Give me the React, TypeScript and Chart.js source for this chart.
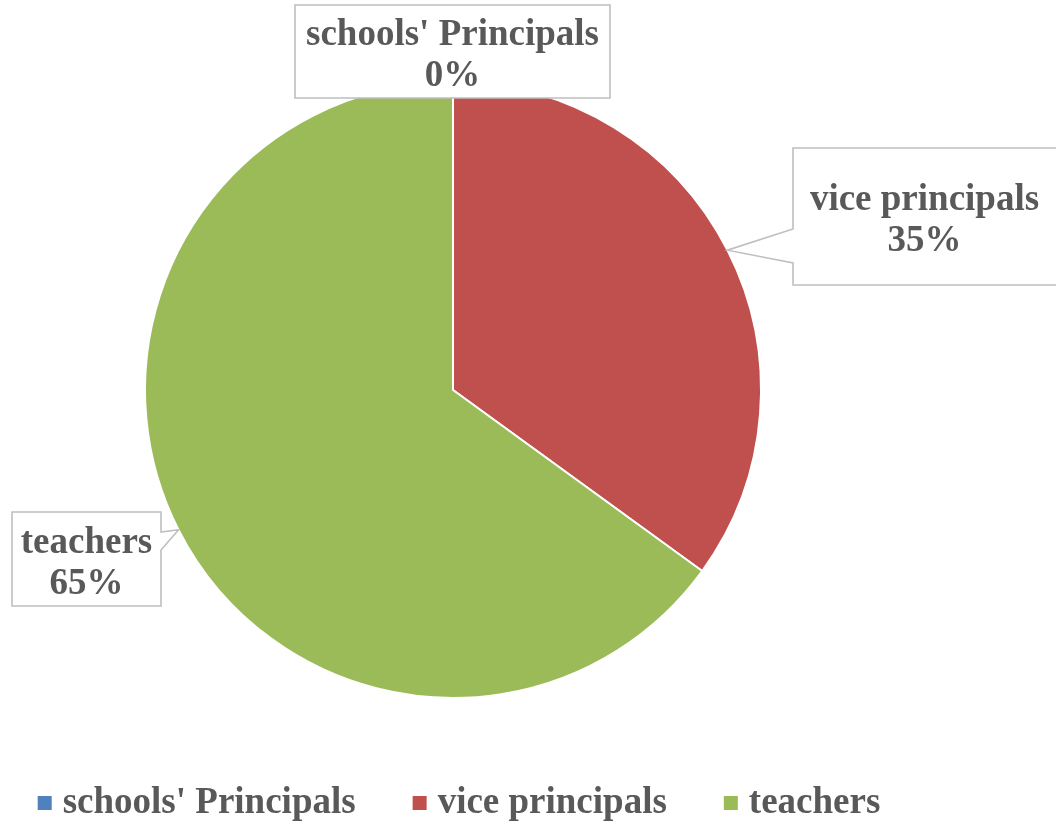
import React, { useEffect, useRef } from "react";
import { Chart, registerables } from "chart.js";

Chart.register(...registerables);

const categories = ["schools' Principals", "vice principals", "teachers"];
const shares = [0, 35, 65];
const sliceColors = ["#4F81BD", "#C0504D", "#9BBB59"];

const FONT = "bold 37px 'Liberation Serif', 'Times New Roman', serif";
const TEXT_COLOR = "#595959";
const BOX_BORDER = "#BFBFBF";

type Callout = {
  left: number;
  top: number;
  right: number;
  bottom: number;
  side: "none" | "left" | "right";
  notchTop: number;
  notchBottom: number;
};

// Label box layout (positions only; the anchor comes from the arc geometry)
const callouts: Callout[] = [
  { left: 295, top: 5, right: 610, bottom: 98, side: "none", notchTop: 0, notchBottom: 0 },
  { left: 793, top: 148, right: 1062, bottom: 285, side: "left", notchTop: 229, notchBottom: 263 },
  { left: 12, top: 512, right: 161, bottom: 606, side: "right", notchTop: 532, notchBottom: 550 },
];

const calloutPlugin = {
  id: "callouts",
  afterDatasetsDraw(chart: any) {
    const ctx: CanvasRenderingContext2D = chart.ctx;
    const meta = chart.getDatasetMeta(0);
    const data: number[] = chart.data.datasets[0].data;
    const total = data.reduce((a, b) => a + b, 0);
    ctx.save();
    meta.data.forEach((arc: any, i: number) => {
      const c = callouts[i];
      if (!c) return;
      const mid = (arc.startAngle + arc.endAngle) / 2;
      const ax = arc.x + Math.cos(mid) * arc.outerRadius;
      const ay = arc.y + Math.sin(mid) * arc.outerRadius;
      ctx.beginPath();
      ctx.moveTo(c.left, c.top);
      ctx.lineTo(c.right, c.top);
      if (c.side === "right") {
        ctx.lineTo(c.right, c.notchTop);
        ctx.lineTo(ax, ay);
        ctx.lineTo(c.right, c.notchBottom);
      }
      ctx.lineTo(c.right, c.bottom);
      ctx.lineTo(c.left, c.bottom);
      if (c.side === "left") {
        ctx.lineTo(c.left, c.notchBottom);
        ctx.lineTo(ax, ay);
        ctx.lineTo(c.left, c.notchTop);
      }
      ctx.closePath();
      ctx.fillStyle = "#FFFFFF";
      ctx.fill();
      ctx.strokeStyle = BOX_BORDER;
      ctx.lineWidth = 1.6;
      ctx.stroke();

      const cx = (c.left + Math.min(c.right, 1056)) / 2;
      const cy = (c.top + c.bottom) / 2;
      ctx.fillStyle = TEXT_COLOR;
      ctx.font = FONT;
      ctx.textAlign = "center";
      ctx.textBaseline = "middle";
      const pct = Math.round((data[i] / total) * 100) + "%";
      ctx.fillText(chart.data.labels[i], cx, cy - 16);
      ctx.fillText(pct, cx, cy + 25);
    });
    ctx.restore();
  },
};

const legendPlugin = {
  id: "customLegend",
  afterDraw(chart: any) {
    const ctx: CanvasRenderingContext2D = chart.ctx;
    const labels: string[] = chart.data.labels;
    const colors: string[] = chart.data.datasets[0].backgroundColor;
    ctx.save();
    ctx.font = FONT;
    const box = 14;
    const gapText = 11;
    const gapItem = 57;
    const widths = labels.map((l) => ctx.measureText(l).width);
    const total = widths.reduce((a, w) => a + box + gapText + w, 0) + gapItem * (labels.length - 1);
    let x = 459 - total / 2;
    const y = 803;
    ctx.textBaseline = "middle";
    ctx.textAlign = "left";
    labels.forEach((l, i) => {
      ctx.fillStyle = colors[i];
      ctx.fillRect(x, y - box / 2, box, box);
      x += box + gapText;
      ctx.fillStyle = TEXT_COLOR;
      ctx.fillText(l, x, y);
      x += widths[i] + gapItem;
    });
    ctx.restore();
  },
};

export default function App() {
  const ref = useRef<HTMLCanvasElement | null>(null);
  useEffect(() => {
    document.body.style.margin = "0";
    const canvas = ref.current;
    if (!canvas) return;
    const chart = new Chart(canvas, {
      type: "pie",
      data: {
        labels: categories,
        datasets: [
          {
            data: shares,
            backgroundColor: sliceColors,
            borderColor: "#FFFFFF",
            borderWidth: 2,
          },
        ],
      },
      options: {
        animation: false,
        responsive: false,
        maintainAspectRatio: false,
        layout: { padding: { top: 81, left: 144, right: 294, bottom: 123 } },
        plugins: {
          legend: { display: false },
          tooltip: { enabled: false },
        },
      },
      plugins: [calloutPlugin, legendPlugin],
    });
    return () => chart.destroy();
  }, []);
  return (
    <div style={{ width: 1056, height: 822, background: "#FFFFFF" }}>
      <canvas ref={ref} width={1056} height={822} style={{ display: "block" }} />
    </div>
  );
}
